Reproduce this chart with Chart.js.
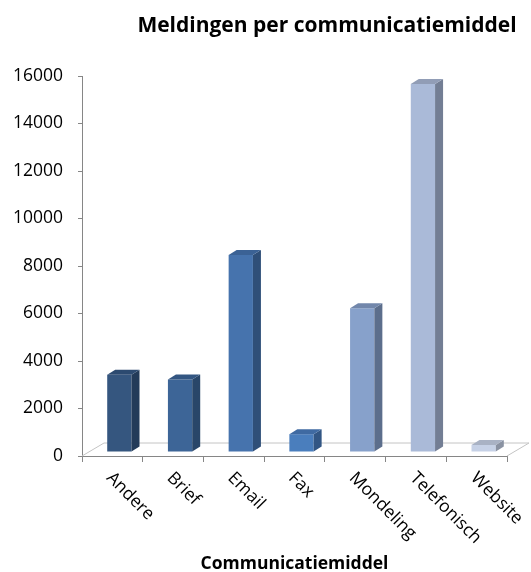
<!DOCTYPE html>
<html lang="nl">
<head>
<meta charset="UTF-8">
<title>Meldingen per communicatiemiddel</title>
<style>
  html, body { margin: 0; padding: 0; background: #fff; }
  .chart-container { width: 531px; height: 572px; }
</style>
</head>
<body>
<div class="chart-container">
  <canvas id="myChart" width="531" height="572"></canvas>
</div>
<script src="https://cdn.jsdelivr.net/npm/chart.js"></script>
<script>
// data
const categories = ['Andere', 'Brief', 'Email', 'Fax', 'Mondeling', 'Telefonisch', 'Website'];
const meldingen = [3250, 3050, 8300, 750, 6050, 15500, 300];
const yTicks = [0, 2000, 4000, 6000, 8000, 10000, 12000, 14000, 16000];

const chartTitle = 'Meldingen per communicatiemiddel';
const xTitle = 'Communicatiemiddel';

// colours: front, side, top
const frontColors = ['#35567f', '#3d6597', '#4673ad', '#4a7ebd', '#87a1cb', '#aabad8', '#c6d1e6'];
const sideColors  = ['#233b59', '#294669', '#2f4f78', '#325684', '#5c6e8c', '#737e94', '#8a92a2'];
const topColors   = ['#2c4a70', '#335682', '#3b6295', '#3f6aa2', '#7287ab', '#919db6', '#a9b2c4'];

const DEPTH_X = 22, DEPTH_Y = 13;   // floor depth
const BAR_DX = 8, BAR_DY = 5;       // bar depth
const SHIFT_X = 7, SHIFT_Y = 4;     // bars stand mid-floor

const axisColor = '#868686';
const floorColor = '#c4c4c4';

const threeD = {
  id: 'threeD',
  beforeDatasetsDraw(chart) {
    const { ctx, chartArea: a } = chart;
    // floor
    ctx.save();
    ctx.strokeStyle = floorColor;
    ctx.lineWidth = 1;
    ctx.beginPath();
    ctx.moveTo(a.left, a.bottom);
    ctx.lineTo(a.left + DEPTH_X, a.bottom - DEPTH_Y);
    ctx.lineTo(a.right + DEPTH_X, a.bottom - DEPTH_Y);
    ctx.lineTo(a.right, a.bottom);
    ctx.stroke();
    ctx.restore();
    ctx.save();
    ctx.translate(SHIFT_X, -SHIFT_Y);
  },
  afterDatasetsDraw(chart) {
    const { ctx } = chart;
    const meta = chart.getDatasetMeta(0);
    meta.data.forEach((bar, i) => {
      const { x, y, base, width } = bar.getProps(['x', 'y', 'base', 'width'], true);
      const l = x - width / 2, r = x + width / 2;
      ctx.fillStyle = sideColors[i];
      ctx.beginPath();
      ctx.moveTo(r, y);
      ctx.lineTo(r + BAR_DX, y - BAR_DY);
      ctx.lineTo(r + BAR_DX, base - BAR_DY);
      ctx.lineTo(r, base);
      ctx.closePath();
      ctx.fill();
      ctx.fillStyle = topColors[i];
      ctx.beginPath();
      ctx.moveTo(l, y);
      ctx.lineTo(l + BAR_DX, y - BAR_DY);
      ctx.lineTo(r + BAR_DX, y - BAR_DY);
      ctx.lineTo(r, y);
      ctx.closePath();
      ctx.fill();
    });
    ctx.restore();
  },
  afterDraw(chart) {
    const { ctx, chartArea: a } = chart;
    const xs = chart.scales.x;
    ctx.save();
    ctx.fillStyle = '#000';
    // category labels, rotated clockwise
    ctx.font = '17.5px "Open Sans"';
    ctx.textAlign = 'left';
    ctx.textBaseline = 'top';
    chart.data.labels.forEach((lab, i) => {
      const px = xs.getPixelForTick(i);
      ctx.save();
      ctx.translate(px + 3, a.bottom + 13);
      ctx.rotate(Math.PI / 4);
      ctx.fillText(lab, 0, 0);
      ctx.restore();
    });
    // titles
    ctx.textAlign = 'center';
    ctx.textBaseline = 'middle';
    ctx.font = 'bold 21px "Open Sans"';
    ctx.fillText(chartTitle, 327, 26);
    ctx.font = 'bold 17.5px "Open Sans"';
    ctx.fillText(xTitle, (a.left + a.right) / 2, 564);
    ctx.restore();
  }
};

const ctx = document.getElementById('myChart').getContext('2d');
new Chart(ctx, {
  type: 'bar',
  data: {
    labels: categories,
    datasets: [{
      label: xTitle,
      data: meldingen,
      backgroundColor: frontColors,
      borderWidth: 0,
      barPercentage: 0.4,
      categoryPercentage: 1
    }]
  },
  options: {
    responsive: false,
    animation: false,
    layout: { padding: { top: 76, right: 24, bottom: 0, left: 0 } },
    plugins: { legend: { display: false }, title: { display: false }, tooltip: { enabled: false } },
    scales: {
      x: {
        grid: { display: true, drawOnChartArea: false, drawTicks: true, tickLength: 6, color: axisColor, offset: true },
        border: { display: true, color: axisColor },
        ticks: { display: false },
        afterFit: s => { s.height = 116; }
      },
      y: {
        min: 0,
        max: 16000,
        afterBuildTicks: s => { s.ticks = yTicks.map(v => ({ value: v })); },
        grid: { display: true, drawOnChartArea: false, drawTicks: true, tickLength: 4, color: axisColor },
        border: { display: true, color: axisColor },
        ticks: {
          padding: 15,
          color: '#000',
          font: { family: 'Open Sans', size: 17.5 },
          callback: v => String(v)
        },
        afterFit: s => { s.width = 82; }
      }
    }
  },
  plugins: [threeD]
});
</script>
</body>
</html>
